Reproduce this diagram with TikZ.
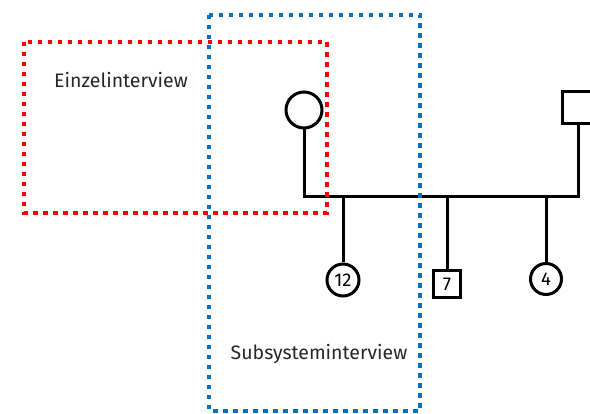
\documentclass[tikz,border=0pt]{standalone}
\usepackage{fontspec}
\setmainfont{Fira Sans}
\usepackage{xcolor}
\usetikzlibrary{shapes.geometric, positioning, calc}
\definecolor{boxblue}{RGB}{0,112,192}

\begin{document}
\begin{tikzpicture}[x=1pt, y=-1pt,
    person/.style={draw=black, line width=3pt, inner sep=0pt, font=\fontsize{18.5}{18.5}\selectfont},
    female/.style={person, circle},
    male/.style={person, rectangle},
    famline/.style={draw=black, line width=3pt},
    interviewbox/.style={line width=4.5pt, dash pattern=on 4.5pt off 5.5pt},
    boxlabel/.style={text=black!85, font=\fontsize{19.5}{19.5}\selectfont, inner sep=0pt}]
    \useasboundingbox (0,0) rectangle (590,414);

    % parents
    \node[female, minimum size=36pt] (mother) at (304,110) {};
    \node[male, minimum size=32pt] (father) at (578,108) {};
    \coordinate (bar) at (303,197);

    % children
    \node[female, minimum size=32pt] (kid12) at (343,280) {12};
    \node[male, minimum size=27pt] (kid7) at (447,284) {7};
    \node[female, minimum size=31pt] (kid4) at (546,279) {4};

    \draw[famline] (mother.south) -- (mother.south |- bar) -- (father.south |- bar) -- (father.south);
    \foreach \kid in {kid12, kid7, kid4}
        \draw[famline] (\kid.north |- bar) -- (\kid.north);

    % interview boxes
    \draw[interviewbox, red] (24,42) rectangle (327,213);
    \node[boxlabel] (einzel) at (121,80) {Einzelinterview};
    \draw[interviewbox, boxblue] (209,15) rectangle (420,411);
    \node[boxlabel] (subsys) at (319,354) {Subsysteminterview};
\end{tikzpicture}
\end{document}
